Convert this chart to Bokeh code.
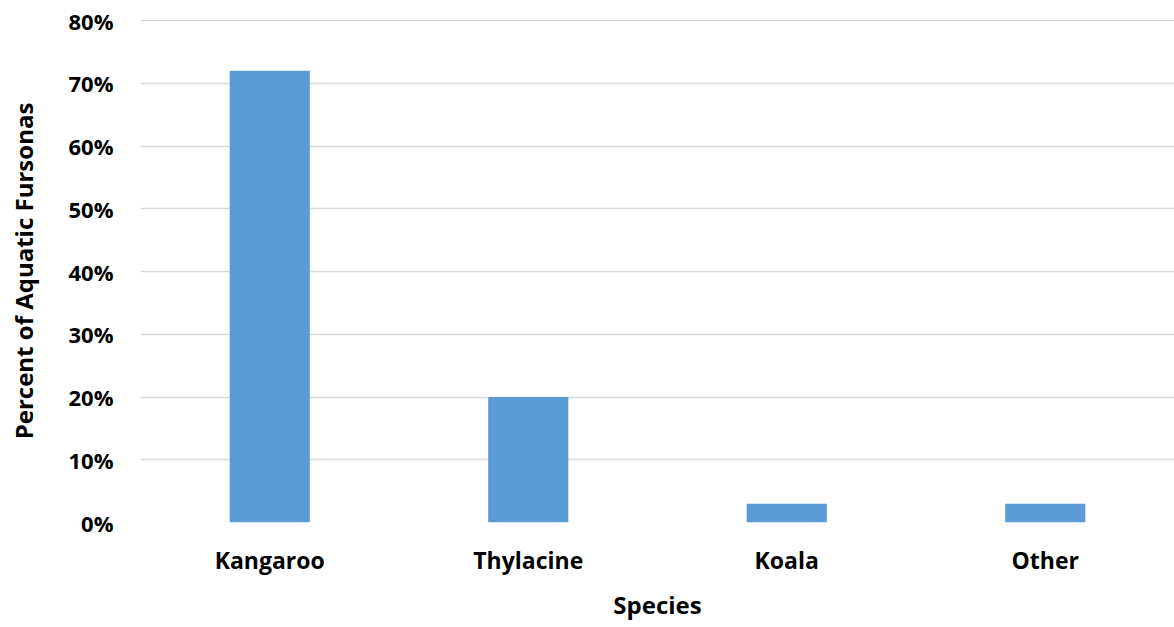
from bokeh.plotting import figure
from bokeh.models import Range1d, NumeralTickFormatter, FixedTicker, Title
from bokeh.embed import file_html
from bokeh.resources import INLINE

species = ["Kangaroo", "Thylacine", "Koala", "Other"]
percent = [0.72, 0.20, 0.03, 0.03]
y_ticks = [0.0, 0.1, 0.2, 0.3, 0.4, 0.5, 0.6, 0.7, 0.8]

FONT = "Open Sans"

p = figure(x_range=species, width=1174, height=627, output_backend="svg",
           toolbar_location=None)
p.y_range = Range1d(0, 0.8016)
p.x_range.range_padding = 0
p.min_border_left = 140
p.min_border_right = 0
p.min_border_top = 19
p.min_border_bottom = 104
p.outline_line_color = None

p.vbar(x=species, top=percent, width=0.31, color="#5b9bd5", line_color=None)

p.yaxis.ticker = FixedTicker(ticks=y_ticks)
p.yaxis.formatter = NumeralTickFormatter(format="0%")
p.ygrid.grid_line_color = "#d9d9d9"
p.ygrid.grid_line_width = 1.5
p.xgrid.grid_line_color = None

for ax in (p.xaxis[0], p.yaxis[0]):
    ax.axis_line_color = None
    ax.major_tick_line_color = None
    ax.minor_tick_line_color = None
    ax.major_tick_out = 0
    ax.major_tick_in = 0
    ax.major_label_text_font = FONT
    ax.major_label_text_font_style = "bold"
    ax.major_label_text_color = "#000000"
    ax.axis_label_text_font = FONT
    ax.axis_label_text_font_style = "bold"
    ax.axis_label_text_font_size = "24px"
    ax.axis_label_text_color = "#000000"

p.xaxis.major_label_text_font_size = "23px"
p.yaxis.major_label_text_font_size = "22px"
p.yaxis.axis_label = "Percent of Aquatic Fursonas"
p.yaxis.major_label_standoff = 27
p.yaxis.axis_label_standoff = 26
p.xaxis.major_label_standoff = 21

species_title = Title(text="Species", align="center", text_font=FONT,
                      text_font_style="bold", text_font_size="24px",
                      text_color="#000000", standoff=14)
p.add_layout(species_title, "below")

open("out.html", "w").write(file_html(p, INLINE))
